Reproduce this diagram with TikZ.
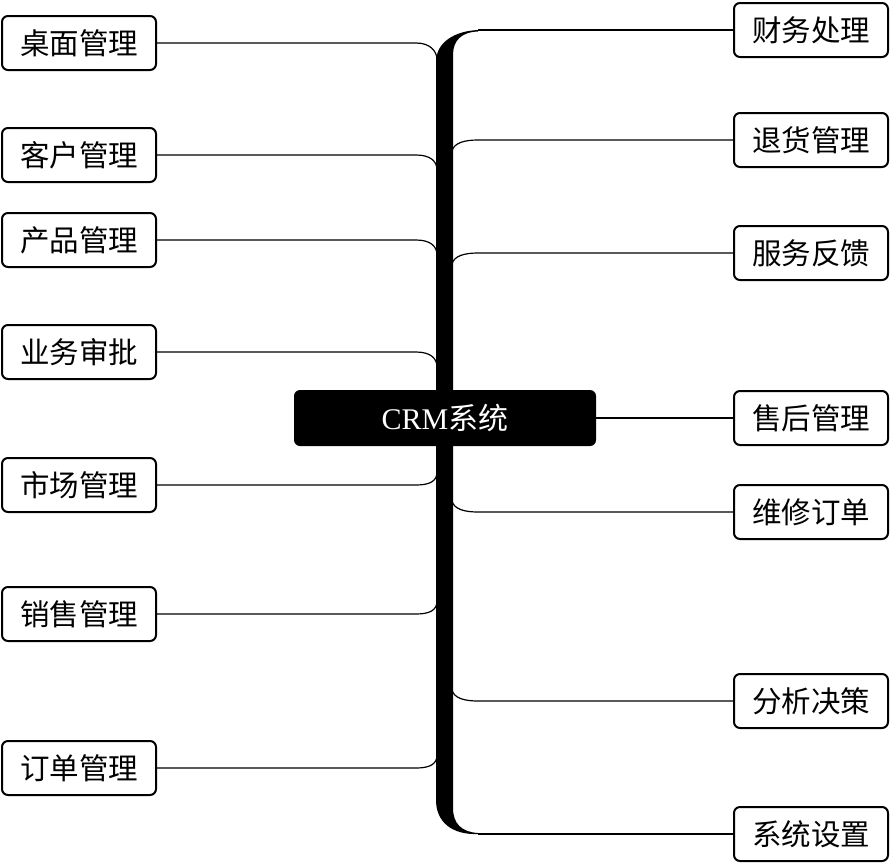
\documentclass[tikz,border=0pt]{standalone}
\usepackage{fontspec}
\setmainfont{Liberation Serif}
\newfontfamily\cjk{Noto Sans CJK SC}
\begin{document}
\begin{tikzpicture}[x=1pt,y=-1pt,
  box/.style={draw,line width=2pt,rounded corners=6pt,minimum width=154pt,minimum height=54pt,inner sep=0pt,fill=white,font=\cjk\fontsize{29.5}{31}\selectfont},
  hub/.style={fill=black,rounded corners=6pt,minimum width=302pt,minimum height=56pt,inner sep=0pt,text=white,font=\fontsize{30}{32}\selectfont},
  conn/.style={line width=1.2pt}]
\useasboundingbox (0,0) rectangle (890,865);
% left boxes
\node[box] (l1) at (79,43) {桌面管理};
\node[box] (l2) at (79,155) {客户管理};
\node[box] (l3) at (79,240) {产品管理};
\node[box] (l4) at (79,352) {业务审批};
\node[box] (l5) at (79,485) {市场管理};
\node[box] (l6) at (79,614) {销售管理};
\node[box] (l7) at (79,768) {订单管理};
% right boxes
\node[box] (r1) at (811,30) {财务处理};
\node[box] (r2) at (811,140) {退货管理};
\node[box] (r3) at (811,253) {服务反馈};
\node[box] (r4) at (811,418) {售后管理};
\node[box] (r5) at (811,512) {维修订单};
\node[box] (r6) at (811,701) {分析决策};
\node[box] (r7) at (811,834) {系统设置};
% spine attachment points
\coordinate (sl1) at (437,60);
\coordinate (sl2) at (437,170);
\coordinate (sl3) at (437,255);
\coordinate (sl4) at (437,367);
\coordinate (sl5) at (437,472);
\coordinate (sl6) at (437,601);
\coordinate (sl7) at (437,755);
\coordinate (sr2) at (452,151);
\coordinate (sr3) at (452,264);
\coordinate (sr5) at (452,501);
\coordinate (sr6) at (452,690);
\coordinate (top) at (478,30);
\coordinate (bot) at (478,834);
% left connectors
\foreach \i in {1,2,3,4}{
  \draw[conn] (l\i.east) -- ++(259,0) .. controls +(14,0) and +(0,-9) .. (sl\i);
}
\foreach \i in {5,6,7}{
  \draw[conn] (l\i.east) -- ++(259,0) .. controls +(14,0) and +(0,9) .. (sl\i);
}
% right connectors
\foreach \i in {2,3}{
  \draw[conn] (sr\i) .. controls +(2,-8) and +(-14,0) .. ++(26,-11) -- (r\i.west);
}
\foreach \i in {5,6}{
  \draw[conn] (sr\i) .. controls +(2,8) and +(-14,0) .. ++(26,11) -- (r\i.west);
}
\draw[conn] (top) -- (r1.west);
\draw[conn] (bot) -- (r7.west);
% spine
\fill (436,800) -- (436,62) .. controls (436,42) and (455,31) .. (top)
  -- (478,31.5) .. controls (462,32) and (453,40) .. (453,55)
  -- (453,808) .. controls (453,824) and (462,832) .. (478,833)
  -- (bot) .. controls (452,835) and (436,822) .. (436,800) -- cycle;
% hub
\node[hub] (c) at (445,418) {CRM{\cjk 系统}};
\draw[conn] (c.east) -- (r4.west);
\end{tikzpicture}
\end{document}
